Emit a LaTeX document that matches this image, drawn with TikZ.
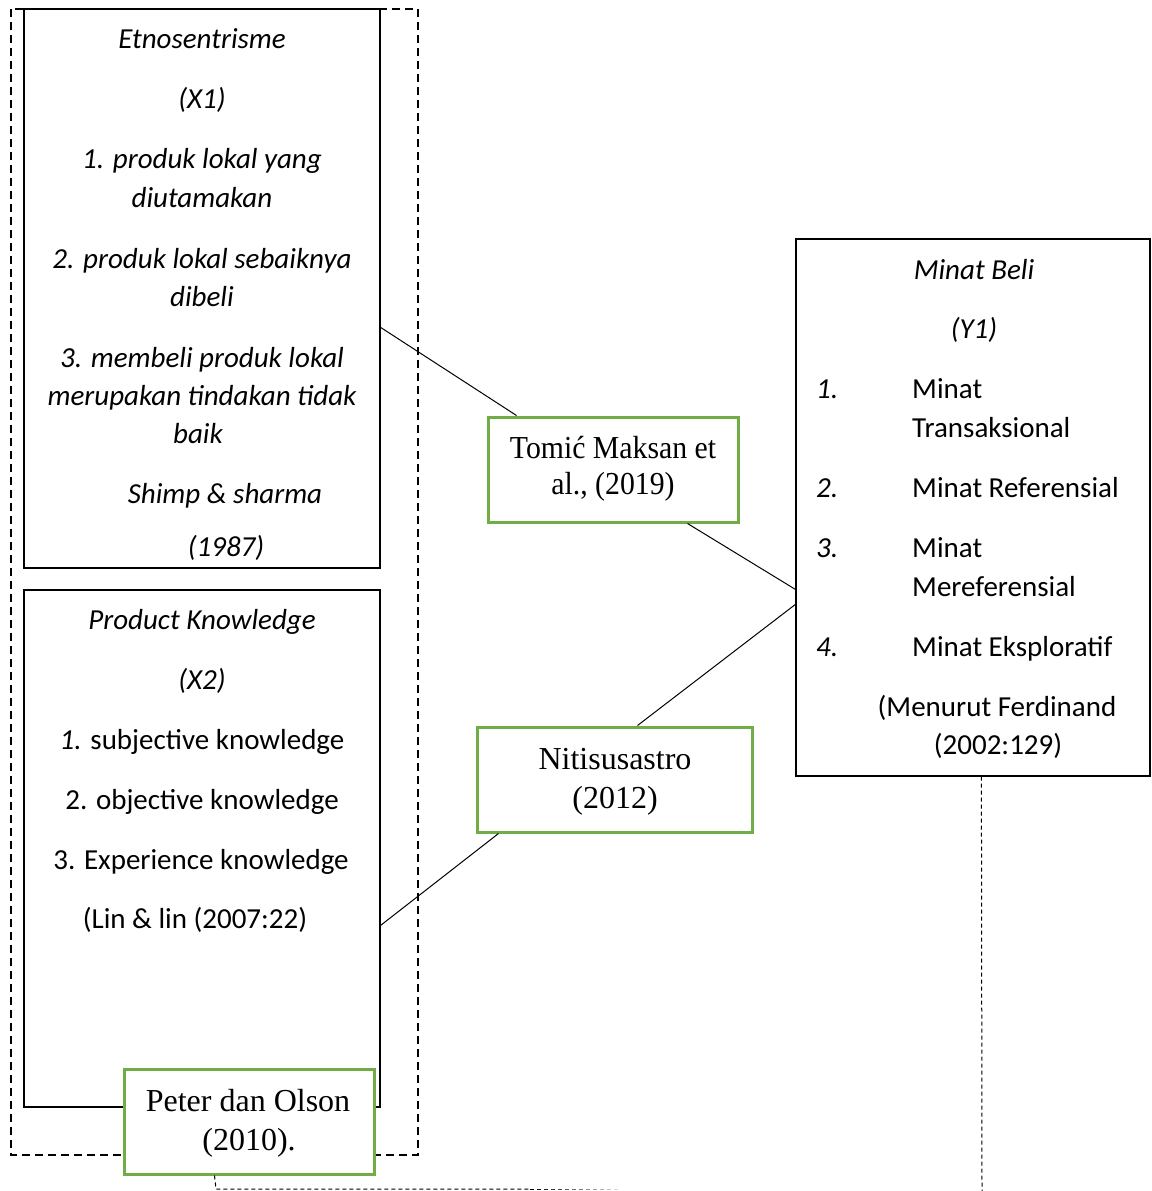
\documentclass[tikz,border=0pt]{standalone}
\usepackage{fontspec}
\setmainfont{Carlito}
\newfontfamily\tnr{Liberation Serif}
\definecolor{boxgreen}{HTML}{70AD47}
\tikzset{
  plainbox/.style={draw=black, line width=1.2pt, fill=white, inner sep=0, rectangle},
  greenbox/.style={draw=boxgreen, line width=3pt, fill=white, inner sep=0, rectangle},
  txt/.style={inner sep=0, anchor=base, font=\fontsize{29}{39}\selectfont},
  itxt/.style={txt, font=\fontsize{29}{39}\selectfont\itshape},
  ltxt/.style={txt, anchor=base west},
  litxt/.style={itxt, anchor=base west},
  gtxt/.style={inner sep=0, anchor=base, font=\fontsize{32}{38}\selectfont\tnr},
  link/.style={draw=black, line width=1pt},
  groupline/.style={draw=black, line width=1.8pt, dash pattern=on 8pt off 5pt},
  thindash/.style={line width=1pt, dash pattern=on 4pt off 3pt}
}
\begin{document}
\begin{tikzpicture}[x=1pt, y=-1pt]
\useasboundingbox (0,0) rectangle (1151,1191);
\fill[white] (0,0) rectangle (1151,1191);

% dashed group rectangle
\draw[groupline] (11,9) rectangle (418,1155);

% boxes
\node[plainbox, minimum width=356pt, minimum height=559pt] (x1) at (202,288.5) {};
\node[plainbox, minimum width=356pt, minimum height=517pt] (x2) at (202,848.5) {};
\node[plainbox, minimum width=354pt, minimum height=537pt] (yb) at (973,507.5) {};

% green boxes
\node[greenbox, minimum width=250pt, minimum height=105pt] (tom) at (613,469.5) {};
\node[greenbox, minimum width=275pt, minimum height=105pt] (nit) at (614.5,779.5) {};

% connectors
\draw[link] ([yshift=-319pt]x1.north east) -- ([xshift=30pt]tom.north west);
\draw[link] ([xshift=201pt]tom.south west) -- ([yshift=-351pt]yb.north west);
\draw[link] ([yshift=-366pt]yb.north west) -- ([xshift=162pt]nit.north west);
\draw[link] ([xshift=23pt]nit.south west) -- ([yshift=-336pt]x2.north east);

% dashed line below Minat Beli box
\coordinate (ydown) at (982,1191);
\draw[thindash, draw=black] ([xshift=186pt]yb.south west) -- (ydown);

% Peter box and its dashed line
\node[greenbox, minimum width=250pt, minimum height=105pt] (pet) at (249,1121.5) {};
\coordinate (pcorner) at (216,1189);
\coordinate (pmid) at (530,1189);
\draw[thindash, draw=black] ([xshift=92pt]pet.south west) -- (pcorner) -- (pmid);
\foreach \i in {0,...,12} {
  \pgfmathsetmacro{\shade}{100-7*\i}
  \pgfmathsetmacro{\xa}{530+7*\i}
  \pgfmathsetmacro{\xb}{534+7*\i}
  \draw[line width=1pt, draw=black!\shade] (\xa,1189) -- (\xb,1189);
}

% X1 text
\node[itxt] (a1) at (202,48) {Etnosentrisme};
\node[itxt] (a2) at (202,108) {(X1)};
\node[itxt] (a3) at (202,168) {1. produk lokal yang};
\node[itxt] (a4) at (202,207) {diutamakan};
\node[itxt] (a5) at (202,268) {2. produk lokal sebaiknya};
\node[itxt] (a6) at (202,306) {dibeli};
\node[itxt] (a7) at (202,367) {3. membeli produk lokal};
\node[itxt] (a8) at (202,405) {merupakan tindakan tidak};
\node[itxt] (a9) at (198,443) {baik};
\node[itxt] (a10) at (225,503) {Shimp \& sharma};
\node[itxt] (a11) at (226,556) {(1987)};

% X2 text
\node[itxt] (b1) at (202,629) {Product Knowledge};
\node[itxt] (b2) at (202,689) {(X2)};
\node[txt] (b3) at (202,749) {\textit{1.} subjective knowledge};
\node[txt] (b4) at (202,809) {2. objective knowledge};
\node[txt] (b5) at (201,869) {3. Experience knowledge};
\node[txt] (b6) at (195,928) {(Lin \& lin (2007:22)};

% Y text
\node[itxt] (c1) at (974,279) {Minat Beli};
\node[itxt] (c2) at (974,338) {(Y1)};
\node[litxt] (n1) at (816,398) {1.};
\node[ltxt] (c3) at (912,398) {Minat};
\node[ltxt] (c4) at (912,437) {Transaksional};
\node[litxt] (n2) at (816,497) {2.};
\node[ltxt] (c5) at (912,497) {Minat Referensial};
\node[litxt] (n3) at (816,557) {3.};
\node[ltxt] (c6) at (912,557) {Minat};
\node[ltxt] (c7) at (912,596) {Mereferensial};
\node[litxt] (n4) at (816,656) {4.};
\node[ltxt] (c8) at (912,656) {Minat Eksploratif};
\node[txt] (c9) at (997,716) {(Menurut Ferdinand};
\node[txt] (c10) at (998,754) {(2002:129)};

% green box texts
\node[gtxt] (t1) at (613,458) {\scalebox{0.93}[1]{Tomić Maksan et}};
\node[gtxt] (t2) at (613,494) {\scalebox{0.93}[1]{al., (2019)}};
\node[gtxt] (t3) at (615,769) {Nitisusastro};
\node[gtxt] (t4) at (615,808) {(2012)};
\node[gtxt] (t5) at (248,1111) {Peter dan Olson};
\node[gtxt] (t6) at (249,1150) {(2010).};
\end{tikzpicture}
\end{document}
